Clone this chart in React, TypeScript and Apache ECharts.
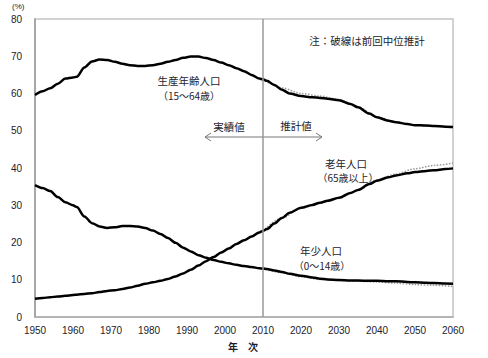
import React, { useEffect, useRef } from "react";
import * as echarts from "echarts";

const years = [1950, 1952, 1954, 1956, 1958, 1960, 1961, 1963, 1965, 1967, 1969, 1971, 1973, 1975, 1977, 1979, 1981, 1983, 1985, 1987, 1989, 1991, 1993, 1995, 1997, 1999, 2001, 2003, 2005, 2007, 2009, 2010, 2011, 2013, 2015, 2017, 2020, 2023, 2025, 2027, 2030, 2033, 2035, 2038, 2040, 2043, 2045, 2048, 2050, 2053, 2055, 2058, 2060];

const working = [59.6, 60.6, 61.4, 62.6, 64.0, 64.3, 64.5, 67.0, 68.6, 69.1, 69.0, 68.5, 68.0, 67.6, 67.4, 67.4, 67.6, 68.0, 68.5, 69.0, 69.6, 69.9, 69.9, 69.5, 69.0, 68.3, 67.6, 66.8, 66.0, 65.0, 64.0, 63.8, 63.4, 62.3, 61.0, 60.0, 59.3, 59.0, 58.8, 58.6, 58.2, 57.2, 56.3, 54.6, 53.6, 52.7, 52.3, 51.8, 51.5, 51.4, 51.3, 51.1, 51.0];

const youth = [35.4, 34.6, 33.8, 32.2, 30.8, 30.0, 29.5, 27.0, 25.2, 24.3, 23.9, 24.1, 24.4, 24.4, 24.3, 23.9, 23.2, 22.3, 21.2, 19.9, 18.6, 17.6, 16.6, 15.9, 15.3, 14.8, 14.4, 14.0, 13.7, 13.4, 13.1, 13.0, 12.9, 12.5, 12.1, 11.6, 11.1, 10.6, 10.3, 10.1, 9.9, 9.8, 9.8, 9.7, 9.7, 9.6, 9.6, 9.4, 9.3, 9.2, 9.1, 9.0, 8.9];

const aged = [4.9, 5.1, 5.3, 5.5, 5.7, 5.9, 6.0, 6.2, 6.4, 6.7, 7.0, 7.2, 7.5, 7.9, 8.4, 8.9, 9.3, 9.7, 10.2, 10.9, 11.7, 12.7, 13.8, 15.0, 16.1, 17.3, 18.4, 19.6, 20.6, 21.6, 22.7, 23.1, 23.6, 25.1, 26.6, 28.0, 29.3, 30.1, 30.7, 31.2, 32.0, 33.3, 34.1, 35.7, 36.6, 37.5, 38.0, 38.6, 38.9, 39.2, 39.4, 39.7, 39.9];

const prevYears = [2010, 2015, 2020, 2025, 2030, 2035, 2040, 2045, 2050, 2055, 2060];
const prevWorking = [63.8, 61.5, 60.0, 59.3, 58.4, 56.4, 53.7, 52.4, 51.5, 51.2, 50.8];
const prevYouth = [13.0, 11.9, 10.8, 10.1, 9.8, 9.6, 9.4, 9.1, 8.7, 8.5, 8.2];
const prevAged = [23.1, 26.6, 29.2, 30.6, 31.9, 34.0, 36.8, 38.4, 39.8, 40.7, 41.3];

const yTicks = [0, 10, 20, 30, 40, 50, 60, 70, 80];
const xTicks = [1950, 1960, 1970, 1980, 1990, 2000, 2010, 2020, 2030, 2040, 2050, 2060];
const projectionStart = 2010;

const pair = (xs: number[], vs: number[]) => xs.map((x, i) => [x, vs[i]]);

const JP = "'Noto Sans CJK JP', sans-serif";
const NUM = "'Liberation Sans Narrow', 'Liberation Sans', Arial, sans-serif";
const TXT = "#1c1c2c";

export default function App() {
  const ref = useRef<HTMLDivElement>(null);
  useEffect(() => {
    document.body.style.margin = "0";
    const chart = echarts.init(ref.current!, null, { renderer: "svg" });
    const solid = (name: string, vals: number[], extra: any = {}) => ({
      name,
      type: "line",
      data: pair(years, vals),
      showSymbol: false,
      smooth: 0.3,
      smoothMonotone: "x",
      lineStyle: { color: "#000", width: 2.5 },
      z: 3,
      ...extra,
    });
    const dotted = (name: string, vals: number[]) => ({
      name,
      type: "line",
      data: pair(prevYears, vals),
      showSymbol: false,
      smooth: 0.3,
      smoothMonotone: "x",
      lineStyle: { color: "#999", width: 1.5, type: "dotted" },
      z: 2,
    });
    chart.setOption({
      animation: false,
      grid: {
        left: 35,
        right: 35,
        top: 19,
        bottom: 41,
        show: true,
        borderColor: "#c4c4c4",
        borderWidth: 1.5,
      },
      xAxis: {
        type: "value",
        min: 1950,
        max: 2060,
        interval: 10,
        axisLine: { show: true, lineStyle: { color: "#aaa", width: 1.5 } },
        axisTick: { show: false },
        splitLine: { show: false },
        axisLabel: {
          color: TXT,
          fontFamily: NUM,
          fontSize: 10,
          margin: 8,
          formatter: (v: number) => (xTicks.includes(v) ? String(v) : ""),
        },
      },
      yAxis: {
        type: "value",
        min: 0,
        max: 80,
        interval: 10,
        axisLine: { show: true, lineStyle: { color: "#999", width: 1.5 } },
        axisTick: { show: false },
        splitLine: { show: false },
        axisLabel: {
          color: TXT,
          fontFamily: NUM,
          fontSize: 10,
          margin: 13,
          formatter: (v: number) => (yTicks.includes(v) ? String(v) : ""),
        },
      },
      series: [
        dotted("前回生産年齢人口", prevWorking),
        dotted("前回年少人口", prevYouth),
        dotted("前回老年人口", prevAged),
        solid("生産年齢人口", working, {
          markLine: {
            silent: true,
            symbol: "none",
            label: { show: false },
            lineStyle: { color: "#999", width: 1.5, type: "solid" },
            data: [{ xAxis: projectionStart }],
          },
        }),
        solid("年少人口", youth),
        solid("老年人口", aged),
      ],
      graphic: [
        { type: "text", left: 12, top: 2, style: { text: "(%)", font: `8px ${NUM}`, fill: TXT } },
        { type: "text", x: 243, y: 346, style: { text: "年　次", font: `bold 10px ${JP}`, fill: TXT, align: "center", verticalAlign: "middle" } },
        { type: "text", x: 367, y: 40, style: { text: "注：破線は前回中位推計", font: `10.5px ${JP}`, fill: TXT, align: "center", verticalAlign: "middle" } },
        { type: "text", x: 189, y: 80, style: { text: "生産年齢人口", font: `10.5px ${JP}`, fill: TXT, align: "center", verticalAlign: "middle" } },
        { type: "text", x: 189, y: 95, style: { text: "（15～64歳）", font: `10px ${JP}`, fill: TXT, align: "center", verticalAlign: "middle" } },
        { type: "text", x: 229, y: 126, style: { text: "実績値", font: `10.5px ${JP}`, fill: TXT, align: "center", verticalAlign: "middle" } },
        { type: "text", x: 296, y: 125, style: { text: "推計値", font: `10.5px ${JP}`, fill: TXT, align: "center", verticalAlign: "middle" } },
        { type: "line", shape: { x1: 205, y1: 137, x2: 322, y2: 137 }, style: { stroke: "#777", lineWidth: 1 } },
        { type: "polyline", shape: { points: [[211, 133], [205, 137], [211, 141]] }, style: { stroke: "#777", lineWidth: 1, fill: null } },
        { type: "polyline", shape: { points: [[316, 133], [322, 137], [316, 141]] }, style: { stroke: "#777", lineWidth: 1, fill: null } },
        { type: "text", x: 346, y: 163, style: { text: "老年人口", font: `10.5px ${JP}`, fill: TXT, align: "center", verticalAlign: "middle" } },
        { type: "text", x: 348, y: 177, style: { text: "（65歳以上）", font: `10px ${JP}`, fill: TXT, align: "center", verticalAlign: "middle" } },
        { type: "text", x: 321, y: 250, style: { text: "年少人口", font: `10.5px ${JP}`, fill: TXT, align: "center", verticalAlign: "middle" } },
        { type: "text", x: 322, y: 265, style: { text: "（0～14歳）", font: `10px ${JP}`, fill: TXT, align: "center", verticalAlign: "middle" } },
      ],
    });
    return () => chart.dispose();
  }, []);
  return <div ref={ref} style={{ width: 488, height: 358 }} />;
}
